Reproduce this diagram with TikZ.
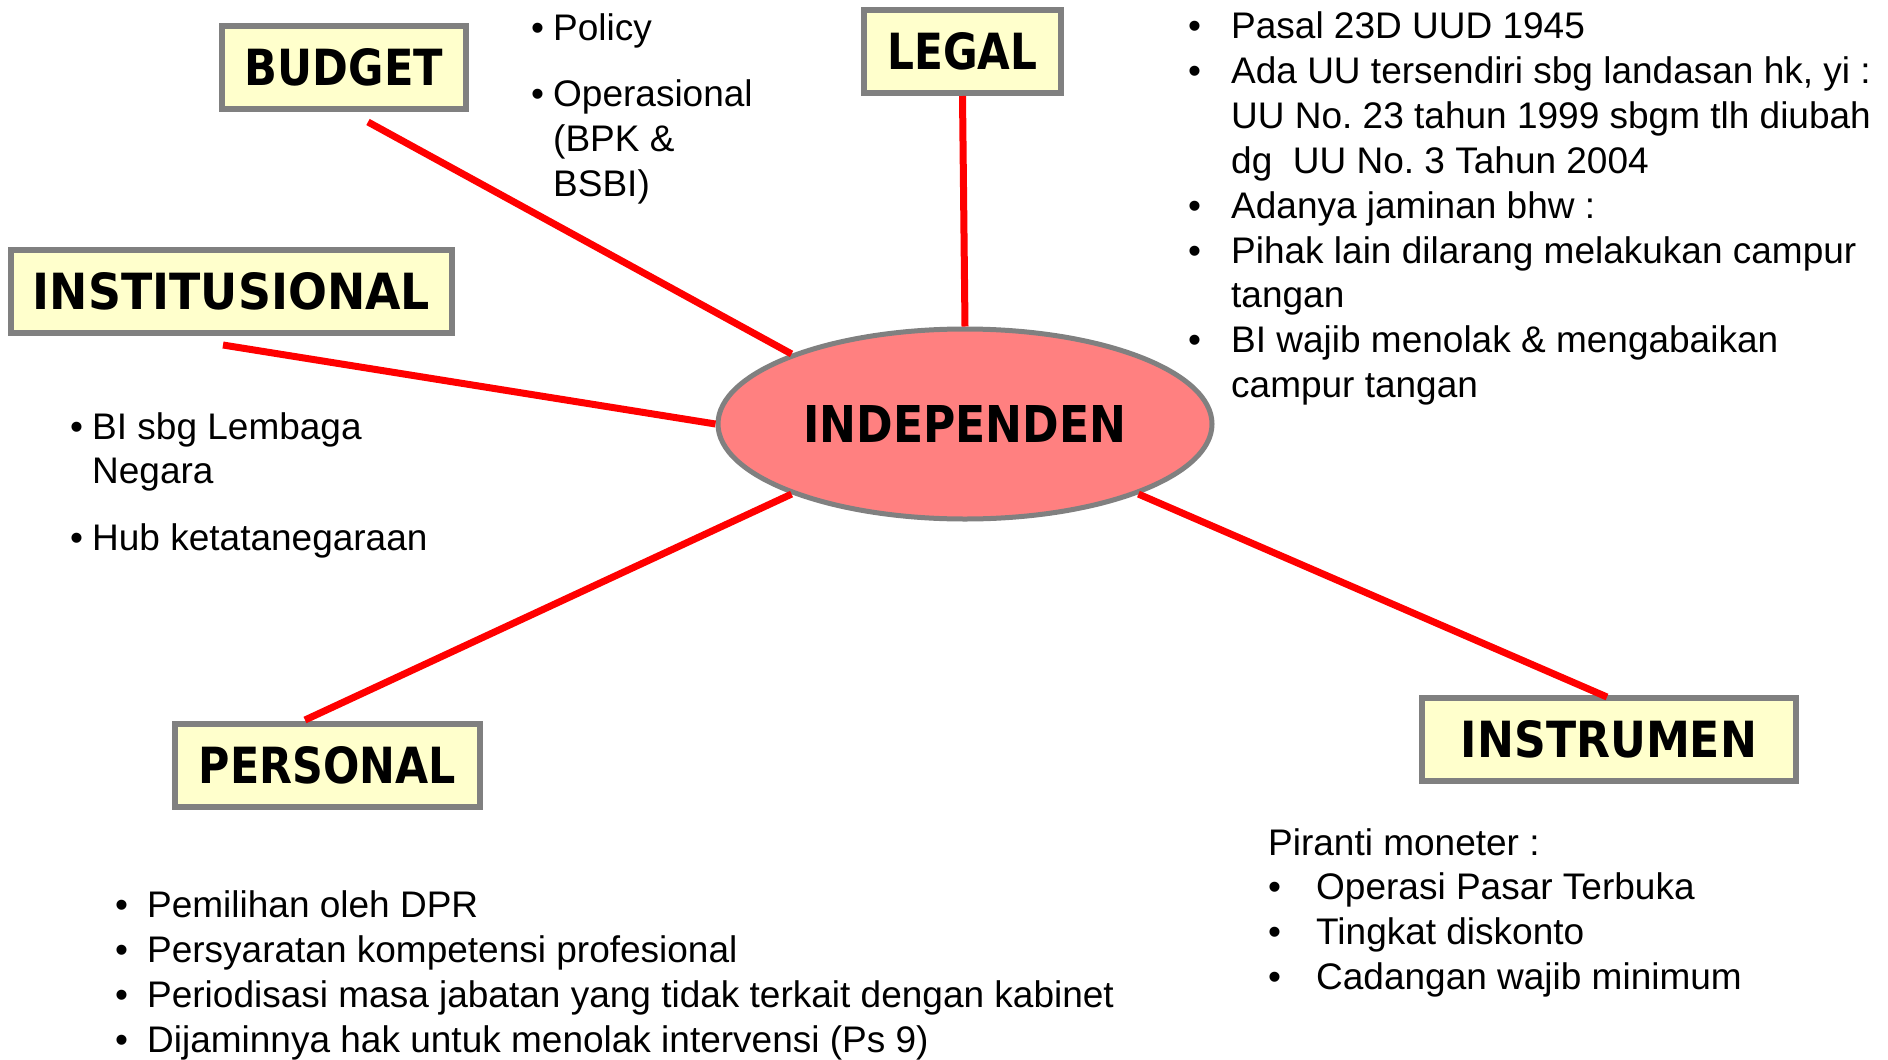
\documentclass[tikz,border=0pt]{standalone}
\usepackage{fontspec}
\setmainfont{Liberation Sans}
\newfontfamily\boxfont{DejaVu Sans}
\usetikzlibrary{shapes.geometric}
\definecolor{boxfill}{HTML}{FFFFCC}
\definecolor{boxline}{HTML}{808080}
\definecolor{ellfill}{HTML}{FF8080}
\definecolor{linkred}{HTML}{FF0000}
\frenchspacing
\newcommand{\boxtxt}[2]{\resizebox{#1pt}{37pt}{\boxfont\bfseries #2}}
\newcommand{\bl}[1]{\makebox[#1pt][l]{•}}
\newcommand{\ind}[1]{\hspace*{#1pt}}
\tikzset{
  catbox/.style={rectangle, draw=boxline, line width=6pt, fill=boxfill, minimum height=83pt, inner sep=0pt},
  centre/.style={ellipse, draw=boxline, line width=5pt, fill=ellfill, minimum width=494pt, minimum height=190pt, inner sep=0pt},
  link/.style={draw=linkred, line width=7pt},
  txt/.style={anchor=base west, inner sep=0pt, font=\fontsize{37}{44.9}\selectfont},
}
\begin{document}
\begin{tikzpicture}[x=1pt,y=-1pt]
\useasboundingbox (0,0) rectangle (1888,1060);
\fill[white] (0,0) rectangle (1888,1060);

% category boxes
\node[catbox, minimum width=244pt] (budget) at (344,67.5) {\boxtxt{198}{BUDGET}};
\node[catbox, minimum width=197pt] (legal) at (962.5,51.5) {\boxtxt{150}{LEGAL}};
\node[catbox, minimum width=441pt] (instit) at (231.5,291.5) {\boxtxt{397}{INSTITUSIONAL}};
\node[catbox, minimum width=305pt] (personal) at (327.5,765) {\boxtxt{257}{PERSONAL}};
\node[catbox, minimum width=374pt] (instrumen) at (1609,739.5) {\boxtxt{296}{INSTRUMEN}};

% centre
\node[centre] (indep) at (965,424) {\boxtxt{323}{INDEPENDEN}};

% free ends of connectors
\coordinate (budgetEnd) at (368,122);
\coordinate (institEnd) at (223,345);
\coordinate (personalEnd) at (305,720);
\coordinate (instrumenEnd) at (1607,697);

% connectors
\draw[link] (budgetEnd) -- (indep.158);
\draw[link] (legal.south) -- (indep.90);
\draw[link] (institEnd) -- (indep.180);
\draw[link] (personalEnd) -- (indep.202);
\draw[link] (instrumenEnd) -- (indep.338);

% text blocks
\node[txt] (tbudget) at (531,40) {\begin{tabular}[t]{@{}l@{}}
\bl{22}Policy\\[21.6pt]
\bl{22}Operasional\\
\ind{22}(BPK \&\\
\ind{22}BSBI)
\end{tabular}};

\node[txt] (tlegal) at (1188,38.5) {\begin{tabular}[t]{@{}l@{}}
\bl{43}Pasal 23D UUD 1945\\
\bl{43}Ada UU tersendiri sbg landasan hk, yi :\\
\ind{43}UU No. 23 tahun 1999 sbgm tlh diubah\\
\ind{43}dg\ \ UU No. 3 Tahun 2004\\
\bl{43}Adanya jaminan bhw :\\
\bl{43}Pihak lain dilarang melakukan campur\\
\ind{43}tangan\\
\bl{43}BI wajib menolak \& mengabaikan\\
\ind{43}campur tangan
\end{tabular}};

\node[txt] (tinstit) at (70,439) {\begin{tabular}[t]{@{}l@{}}
\bl{22}BI sbg Lembaga\\
\ind{22}Negara\\[22pt]
\bl{22}Hub ketatanegaraan
\end{tabular}};

\node[txt] (tpersonal) at (115,917.5) {\begin{tabular}[t]{@{}l@{}}
\bl{32}Pemilihan oleh DPR\\
\bl{32}Persyaratan kompetensi profesional\\
\bl{32}Periodisasi masa jabatan yang tidak terkait dengan kabinet\\
\bl{32}Dijaminnya hak untuk menolak intervensi (Ps 9)
\end{tabular}};

\node[txt] (tinstrumen) at (1268,855) {\begin{tabular}[t]{@{}l@{}}
Piranti moneter :\\
\bl{48}Operasi Pasar Terbuka\\
\bl{48}Tingkat diskonto\\
\bl{48}Cadangan wajib minimum
\end{tabular}};
\end{tikzpicture}
\end{document}
